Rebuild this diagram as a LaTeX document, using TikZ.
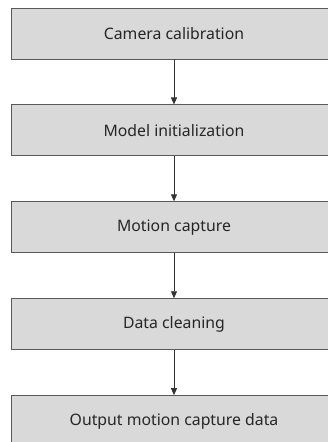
\documentclass[tikz,border=0pt]{standalone}
\usepackage{fontspec}
\setmainfont{Noto Sans}
\usetikzlibrary{arrows.meta,positioning}

\begin{document}
\begin{tikzpicture}[
  x=1pt, y=1pt,
  node distance=45pt,
  stage/.style={rectangle, draw=black!65, line width=0.9pt, fill=black!15, minimum width=326pt, minimum height=51pt, inner sep=0pt, text=black!85, font=\fontsize{15.8}{19}\selectfont},
  arr/.style={-{Triangle[length=7pt, width=6pt]}, line width=0.9pt, draw=black!80}]
\clip (0,0) rectangle (328,-442);
\useasboundingbox (0,0) rectangle (328,-442);
\node[stage] (n1) at (174,-33.5) {Camera calibration};
\node[stage, below=of n1] (n2) {Model initialization};
\node[stage, below=of n2] (n3) {Motion capture};
\node[stage, below=of n3] (n4) {Data cleaning};
\node[stage, below=of n4] (n5) {Output motion capture data};
\foreach \i/\j in {1/2,2/3,3/4,4/5} \draw[arr] (n\i) -- (n\j);
\end{tikzpicture}
\end{document}
